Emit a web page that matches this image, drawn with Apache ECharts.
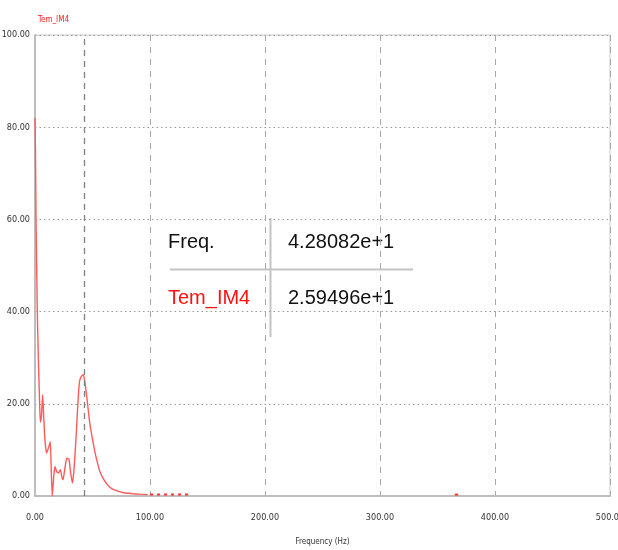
<!DOCTYPE html>
<html><head><meta charset="utf-8">
<script src="https://cdn.jsdelivr.net/npm/echarts@6/dist/echarts.min.js"></script>
<style>html,body{margin:0;padding:0;background:#fff}#c{width:618px;height:550px}</style>
</head><body><div id="c"></div>
<script>
const seriesName = 'Tem_IM4';
const freq = [0,0.4,0.9,2,2.9,3.8,4.6,5.5,6.7,7.6,8.7,10,11.8,13.3,14.2,15,16.4,17.4,18.8,20.5,22,23.5,24.4,26,27.6,29.5,31,32.5,34,36,37.5,38.8,40.5,42,43.5,45.5,47.5,49.5,51.5,54,56.6,60,65,70,77,85,91,98];
const values = [82,75,60,40,30,22,16,17,22,17,12,9.3,10.5,11.8,5,0,4.5,6.4,5.3,5.0,5.7,4,3.5,6,8.2,8,5,2.8,6,14,21,25,26,26.3,24.5,20.5,16,13,10.3,7.5,5.2,3.5,1.9,1.2,0.7,0.5,0.4,0.3];
const sparseFreq1 = [100,134];
const sparseVal1 = [0.3,0.3];
const sparseFreq2 = [365,368];
const sparseVal2 = [0.3,0.3];
const xTicks = [0,100,200,300,400,500];
const yTicks = [0,20,40,60,80,100];
const cursorFreq = 42.8082;
const cursorVal = 25.9496;
const cursorFreqText = '4.28082e+1';
const cursorValText = '2.59496e+1';

const main = freq.map((f,i)=>[f,values[i]]);
const s1 = sparseFreq1.map((f,i)=>[f,sparseVal1[i]]);
const s2 = sparseFreq2.map((f,i)=>[f,sparseVal2[i]]);
const lab = {fontFamily:'"Liberation Sans Narrow","DejaVu Sans Condensed","Liberation Sans",Arial,sans-serif',fontSize:9,color:'#333'};

const chart = echarts.init(document.getElementById('c'));
chart.setOption({
  animation:false,
  backgroundColor:'#fff',
  title:{text:seriesName,left:33,top:11,textStyle:{color:'#ff2020',fontSize:8,fontWeight:'normal',fontFamily:lab.fontFamily}},
  grid:{left:35,right:8,top:35,bottom:54,containLabel:false,outerBoundsMode:'none',show:true,borderColor:'#c8c8c8',borderWidth:1},
  xAxis:{type:'value',min:0,max:500,interval:100,
    name:'Frequency (Hz)',nameLocation:'middle',nameGap:42,
    nameTextStyle:Object.assign({},lab,{fontSize:8}),
    axisLine:{show:true,lineStyle:{color:'#bdbdbd',width:2}},
    axisTick:{show:false},
    axisLabel:Object.assign({},lab,{margin:17,formatter:v=>v.toFixed(2)}),
    splitLine:{show:true,lineStyle:{color:'#a8a8a8',type:[6,6],width:1}}},
  yAxis:{type:'value',min:0,max:100,interval:20,
    axisLine:{show:true,lineStyle:{color:'#bdbdbd',width:2}},
    axisTick:{show:false},
    axisLabel:Object.assign({},lab,{margin:5,formatter:v=>v.toFixed(2)}),
    splitLine:{show:true,lineStyle:{color:'#999',type:[1.5,3],width:1}}},
  series:[
    {type:'line',name:seriesName,data:main,showSymbol:false,smooth:0.15,
      lineStyle:{color:'#ff5a5a',width:1.4},
      markLine:{silent:true,symbol:'none',label:{show:false},
        lineStyle:{color:'#808080',type:[6,5],width:1.3},
        data:[{xAxis:cursorFreq}]}},
    {type:'line',data:s1,showSymbol:false,lineStyle:{color:'#ff3030',width:2,type:[3,4]}},
    {type:'line',data:s2,showSymbol:false,lineStyle:{color:'#ff3030',width:2}}
  ],
  graphic:[
    {type:'line',shape:{x1:270.5,y1:218,x2:270.5,y2:337},style:{stroke:'#c4c4c4',lineWidth:2}},
    {type:'line',shape:{x1:170,y1:269.5,x2:413,y2:269.5},style:{stroke:'#c4c4c4',lineWidth:2}},
    {type:'text',left:168,top:232,style:{text:'Freq.',fill:'#111',font:'20px "Liberation Sans",Arial,sans-serif'}},
    {type:'text',left:288,top:232,style:{text:cursorFreqText,fill:'#111',font:'20px "Liberation Sans",Arial,sans-serif'}},
    {type:'text',left:168,top:288,style:{text:seriesName,fill:'#ff1010',font:'20px "Liberation Sans",Arial,sans-serif'}},
    {type:'text',left:288,top:288,style:{text:cursorValText,fill:'#111',font:'20px "Liberation Sans",Arial,sans-serif'}}
  ]
});
</script></body></html>
